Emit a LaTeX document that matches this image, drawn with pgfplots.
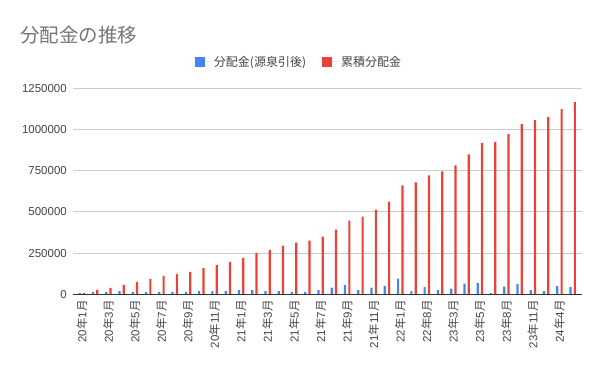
\documentclass[border=0pt]{standalone}
\usepackage{pgfplots}
\pgfplotsset{compat=1.18}
\usepackage{fontspec}
\setmainfont{Liberation Sans}
\newfontfamily\cjk{Noto Sans CJK JP}
\definecolor{cblue}{HTML}{4285F4}
\definecolor{cred}{HTML}{EA4335}
\definecolor{gridc}{HTML}{CCCCCC}
\definecolor{titlec}{HTML}{757575}
\definecolor{labc}{HTML}{444444}
\newcommand{\ym}[2]{#1{\cjk 年}#2{\cjk 月}}
\begin{document}
\begin{tikzpicture}
\path[use as bounding box] (-73bp,-76.7bp) rectangle (527bp,294.3bp);
\node[anchor=west, text=titlec, inner sep=0pt, font=\cjk\fontsize{19.5bp}{21bp}\selectfont] at (-53bp,258.8bp) {分配金の推移};
\begin{axis}[
  scale only axis,
  width=509bp, height=206bp,
  at={(0,0)}, anchor=south west,
  xmin=-0.67, xmax=37.7,
  ymin=0, ymax=1250000,
  ytick={0,250000,500000,750000,1000000,1250000},
  yticklabels={0,250000,500000,750000,1000000,1250000},
  scaled y ticks=false,
  xtick={0,2,...,36},
  xticklabels={\ym{20}{1},\ym{20}{3},\ym{20}{5},\ym{20}{7},\ym{20}{9},\ym{20}{11},\ym{21}{1},\ym{21}{3},\ym{21}{5},\ym{21}{7},\ym{21}{9},\ym{21}{11},\ym{22}{1},\ym{22}{8},\ym{23}{3},\ym{23}{5},\ym{23}{8},\ym{23}{11},\ym{24}{4}},
  major tick length=0pt,
  axis line style={draw=none},
  ymajorgrids, grid style={gridc, line width=0.9bp},
  yticklabel style={anchor=east, inner sep=0pt, xshift=-6bp, text=labc, font=\fontsize{11.5bp}{13bp}\selectfont},
  xticklabel style={yshift=-6bp, rotate=90, anchor=east, inner sep=0pt, text=labc, font=\fontsize{11.5bp}{13bp}\selectfont},
  ybar, bar width=2.2bp,
  legend columns=2,
  legend style={at={(0.444,1.128)}, anchor=center, draw=none, fill=none, font=\cjk\fontsize{12bp}{13bp}\selectfont, text=labc, /tikz/every even column/.append style={column sep=14bp}},
  legend image code/.code={\fill[#1] (0bp,-5bp) rectangle (10bp,5bp); \path (0bp,0bp) -- (17bp,0bp);},
  clip=false,
]
\addplot[fill=cblue, draw=none, bar shift=-2.15bp] coordinates {
(0,8000)(1,14000)(2,14000)(3,20000)(4,14000)(5,14000)(6,14000)(7,14000)(8,14000)(9,20000)
(10,20000)(11,20000)(12,26000)(13,26000)(14,20000)(15,20000)(16,14000)(17,14000)(18,26000)(19,40000)
(20,56000)(21,25000)(22,40000)(23,50000)(24,95000)(25,19000)(26,44000)(27,25000)(28,34000)(29,65000)
(30,68000)(31,7000)(32,46000)(33,62000)(34,25000)(35,19000)(36,49000)(37,44000)};
\addlegendentry{分配金(源泉引後)}
\addplot[fill=cred, draw=none, bar shift=2.15bp] coordinates {
(0,8000)(1,26400)(2,38600)(3,56900)(4,75200)(5,93500)(6,111800)(7,124000)(8,136200)(9,160600)
(10,178900)(11,197200)(12,221500)(13,252000)(14,270300)(15,294700)(16,313000)(17,325200)(18,349600)(19,392300)
(20,447200)(21,471500)(22,514200)(23,563000)(24,660600)(25,678900)(26,721500)(27,745900)(28,782500)(29,849600)
(30,916700)(31,922700)(32,971500)(33,1032500)(34,1056900)(35,1075200)(36,1124000)(37,1166700)};
\addlegendentry{累積分配金}
\draw[black!80, line width=1bp] (axis cs:-0.67,0) -- (axis cs:37.7,0);
\end{axis}
\end{tikzpicture}
\end{document}
